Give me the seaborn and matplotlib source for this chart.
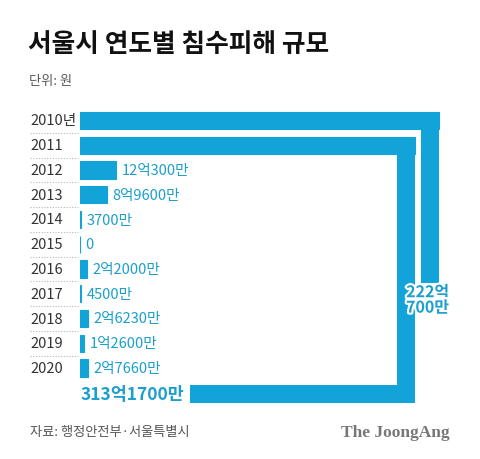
import matplotlib
matplotlib.use("Agg")
import matplotlib.pyplot as plt
import matplotlib.patheffects as pe
from matplotlib.patches import Rectangle
from matplotlib.transforms import blended_transform_factory
import pandas as pd
import seaborn as sns

# damage per year, in 만원 (10,000 won)
years = ["2010년", "2011", "2012", "2013", "2014", "2015",
         "2016", "2017", "2018", "2019", "2020"]
damage_man = [2220700, 3131700, 120300, 89600, 3700, 0,
              22000, 4500, 26230, 12600, 27660]

BLUE = "#12a4d9"
TEXT_BLUE = "#1b9fcc"
W, H = 480, 460
PX = 3.0  # pixels per 억
ROW0, PITCH = 121.5, 24.75  # centre of first row / row pitch in px
BAR_H = 0.7
BEND_W = 18 / PX  # thickness of the bent part, in 억 units

# layout of the two oversized bars that wrap around the chart
fold_2010 = {"turn_x": (439 - 80) / PX, "end_row": (284 - ROW0) / PITCH}
fold_2011 = {"turn_x": (415 - 80) / PX, "bottom_row": 11.05, "end_x": (190 - 80) / PX}


def fmt_won(v):
    eok, man = divmod(v, 10000)
    s = ""
    if eok:
        s += f"{eok}억"
    if man:
        s += f"{man}만"
    return s or "0"


def fx(px):
    return px / W


def fy(py):
    return 1 - py / H


sns.set_style("white")
plt.rcParams["font.family"] = ["Noto Sans CJK KR", "DejaVu Sans"]

values = [v / 10000 for v in damage_man]
drawn = list(values)
drawn[0] = min(values[0], fold_2010["turn_x"])
drawn[1] = min(values[1], fold_2011["turn_x"])
df = pd.DataFrame({"year": years, "value": drawn})

fig = plt.figure(figsize=(W / 100, H / 100), dpi=100)
ax = fig.add_axes([fx(80), fy(420), 380 / W, 320 / H])
sns.barplot(data=df, x="value", y="year", orient="h", order=years,
            color=BLUE, saturation=1, width=BAR_H, ax=ax,
            linewidth=0.8, edgecolor=BLUE)
ax.set_xlim(0, 380 / PX)
ax.set_ylim((420 - ROW0) / PITCH, (100 - ROW0) / PITCH)
ax.axis("off")

# bent part of 2010
tx = fold_2010["turn_x"]
ax.add_patch(Rectangle((tx - BEND_W, -BAR_H / 2), BEND_W,
                       fold_2010["end_row"] + BAR_H / 2, color=BLUE, lw=0))
# bent part of 2011
tx = fold_2011["turn_x"]
bot = fold_2011["bottom_row"]
ax.add_patch(Rectangle((tx - BEND_W, 1 - BAR_H / 2), BEND_W,
                       bot - 1 + BAR_H, color=BLUE, lw=0))
ax.add_patch(Rectangle((fold_2011["end_x"], bot - BAR_H / 2),
                       tx - fold_2011["end_x"], BAR_H, color=BLUE, lw=0))

# value labels
for i, (v, m) in enumerate(zip(values, damage_man)):
    if i < 2:
        continue
    ax.annotate(fmt_won(m), (v, i), xytext=(4, 0), textcoords="offset points",
                va="center", ha="left", fontsize=10.5, color=TEXT_BLUE)

ax.text(fold_2010["turn_x"] - BEND_W / 2 - 0.8, fold_2010["end_row"] + 0.05,
        fmt_won(damage_man[0]).replace("억", "억\n"), ha="center", va="top",
        fontsize=11.5, fontweight="bold", color=TEXT_BLUE, linespacing=0.95,
        path_effects=[pe.withStroke(linewidth=3, foreground="white")])
ax.text(fold_2011["end_x"] - 2, bot, fmt_won(damage_man[1]), ha="right",
        va="center", fontsize=12.5, fontweight="bold", color=TEXT_BLUE)

# year labels and dotted separators
tr = blended_transform_factory(fig.transFigure, ax.transData)
for i, y in enumerate(years):
    ax.text(fx(30), i, y, transform=tr, ha="left", va="center",
            fontsize=10.5, color="#333333")
    if i < len(years) - 1:
        ax.plot([fx(30), fx(78)], [i + 0.5, i + 0.5], transform=tr,
                color="#b5b5b5", lw=0.8, ls=(0, (1, 1.5)), clip_on=False)

fig.text(fx(28), fy(45), "서울시 연도별 침수피해 규모", fontsize=18.5,
         fontweight="black", va="center", ha="left", color="#111111")
fig.text(fx(29), fy(82), "단위: 원", fontsize=9.5, va="center", ha="left",
         color="#555555")
fig.text(fx(30), fy(433), "자료: 행정안전부·서울특별시", fontsize=9.5,
         va="center", ha="left", color="#555555")
fig.text(fx(450), fy(433), "The JoongAng", fontsize=12.5, va="center",
         ha="right", color="#777777", family="Liberation Serif",
         fontweight="bold")

fig.savefig("out.png", dpi=100)
